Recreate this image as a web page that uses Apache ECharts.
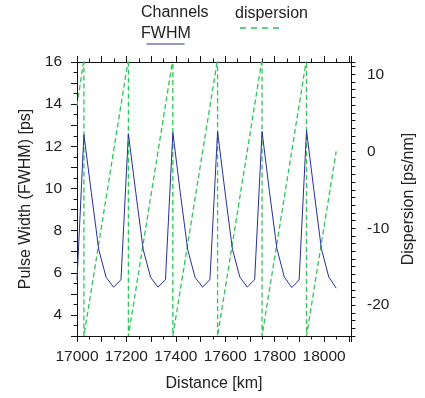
<!DOCTYPE html>
<html>
<head>
<meta charset="utf-8">
<script src="https://cdn.jsdelivr.net/npm/echarts@6/dist/echarts.min.js"></script>
<style>
html,body{margin:0;padding:0;background:#fff;}
#chart{width:425px;height:398px;}
</style>
</head>
<body>
<div id="chart"></div>
<script>
// ---- data ----
const fwhmKm = [17000,17028,17058,17088,17118,17148,17178,
  17208,17238,17268,17298,17328,17358,
  17388,17418,17448,17478,17508,17538,
  17569,17599,17629,17659,17689,17719,
  17749,17779,17809,17839,17869,17899,
  17929,17959,17989,18019,18049];
const fwhmPs = [5.65,12.55,9.8,7.1,5.78,5.32,5.67,
  12.6,9.8,7.1,5.78,5.32,5.67,
  12.65,9.8,7.1,5.78,5.32,5.67,
  12.7,9.85,7.12,5.8,5.32,5.67,
  12.7,9.85,7.15,5.8,5.3,5.65,
  12.75,9.9,7.15,5.8,5.27];
const dispKm = [17000,17028,17028,17208,17208,17388,17388,17569,17569,17749,17749,17929,17929,18049];
const dispVal = [5.9,12,-24,12,-24,12,-24,12,-24,12,-24,12,-24,0];

// ---- axes / tick labels ----
const xMin = 17000, xMax = 18109, xStep = 100;
const yMin = 3, yMax = 16, yStep = 1;
const dMin = -24, dMax = 11.6, dStep = 1;
const xLabels = [17000,17200,17400,17600,17800,18000];
const yLabels = [4,6,8,10,12,14,16];
const dLabels = [-20,-10,0,10];

const seriesNames = ['Channels FWHM', 'dispersion'];
const xName = 'Distance [km]';
const yName = 'Pulse Width (FWHM) [ps]';
const dName = 'Dispersion [ps/nm]';

const FONT = "'Liberation Sans', Arial, sans-serif";
const TXT = '#222';
const AX = '#111';
const BLUE = '#27309a';
const GREEN = '#2ec458';

function zip(a, b) { return a.map((v, i) => [v, b[i]]); }
function near(list, v) { return list.some(t => Math.abs(t - v) < 1e-6); }

function xAx(pos, withLabels) {
  return {
    type: 'value', position: pos, min: xMin, max: xMax, interval: xStep,
    splitLine: {show: false},
    axisLine: {show: true, onZero: false, lineStyle: {color: AX, width: 1}},
    axisTick: {show: true, length: 6, inside: false, lineStyle: {color: AX}},
    minorTick: {show: true, splitNumber: 2, length: 3.5, lineStyle: {color: AX}},
    axisLabel: withLabels ? {
      show: true, margin: 13, color: TXT, fontSize: 15.5, fontFamily: FONT,
      showMinLabel: true, showMaxLabel: false, hideOverlap: false,
      formatter: v => near(xLabels, v) ? String(v) : ''
    } : {show: false},
    name: withLabels ? xName : '', nameLocation: 'middle', nameGap: 40,
    nameTextStyle: {color: TXT, fontSize: 16, fontFamily: FONT}
  };
}

const chart = echarts.init(document.getElementById('chart'), null, {renderer: 'canvas'});
const option = {
  animation: false,
  backgroundColor: '#fff',
  grid: {left: 77, right: 69, top: 62, bottom: 62, containLabel: false},
  xAxis: [xAx('bottom', true), xAx('top', false)],
  yAxis: [
    {
      type: 'value', position: 'left', min: yMin, max: yMax, interval: yStep,
      splitLine: {show: false},
      axisLine: {show: true, onZero: false, lineStyle: {color: AX}},
      axisTick: {show: true, length: 6, inside: false, lineStyle: {color: AX}},
      minorTick: {show: true, splitNumber: 2, length: 3.5, lineStyle: {color: AX}},
      axisLabel: {
        show: true, margin: 15, color: TXT, fontSize: 15.5, fontFamily: FONT, hideOverlap: false,
        formatter: v => near(yLabels, v) ? String(v) : ''
      },
      name: yName, nameLocation: 'middle', nameGap: 42, nameRotate: 90,
      nameTextStyle: {color: TXT, fontSize: 16, fontFamily: FONT}
    },
    {
      type: 'value', position: 'right', min: dMin, max: dMax, interval: dStep,
      splitLine: {show: false},
      axisLine: {show: true, onZero: false, lineStyle: {color: AX}},
      axisTick: {show: true, length: 4.5, inside: false, lineStyle: {color: AX}},
      axisLabel: {
        show: true, margin: 16, color: TXT, fontSize: 15.5, fontFamily: FONT, hideOverlap: false,
        formatter: v => near(dLabels, v) ? String(v) : ''
      },
      name: dName, nameLocation: 'middle', nameGap: 50, nameRotate: 90,
      nameTextStyle: {color: TXT, fontSize: 16, fontFamily: FONT}
    }
  ],
  graphic: [
    {type: 'text', left: 141, top: 5, style: {text: 'Channels', fill: TXT, font: '16px ' + FONT}},
    {type: 'text', left: 141, top: 26, style: {text: 'FWHM', fill: TXT, font: '16px ' + FONT}},
    {type: 'line', shape: {x1: 146.5, y1: 44, x2: 184.5, y2: 44}, style: {stroke: BLUE, lineWidth: 1.2}},
    {type: 'text', left: 235, top: 6, style: {text: 'dispersion', fill: TXT, font: '16px ' + FONT}},
    {type: 'line', shape: {x1: 240, y1: 28, x2: 279, y2: 28}, style: {stroke: GREEN, lineWidth: 1.3, lineDash: [6, 5]}}
  ],
  series: [
    {
      name: seriesNames[0], type: 'line', xAxisIndex: 0, yAxisIndex: 0,
      data: zip(fwhmKm, fwhmPs), showSymbol: false, symbol: 'none', clip: true,
      lineStyle: {color: BLUE, width: 1}, z: 3
    },
    {
      name: seriesNames[1], type: 'line', xAxisIndex: 0, yAxisIndex: 1,
      data: zip(dispKm, dispVal), showSymbol: false, symbol: 'none', clip: true,
      lineStyle: {color: GREEN, width: 1.3, type: [5, 3]}, z: 2
    }
  ]
};
chart.setOption(option);
</script>
</body>
</html>
